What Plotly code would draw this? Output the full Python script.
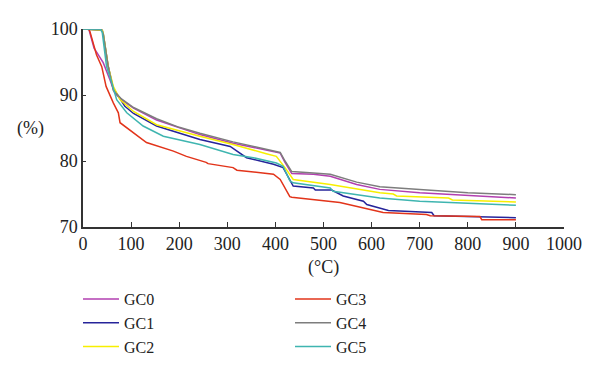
import plotly.graph_objects as go

# Temperature (°C) / residual mass (%)
gc0_t = [0, 12, 23, 42, 56, 66, 80, 105, 153, 200, 243, 312, 396, 410, 420, 434, 479, 514, 569, 617, 700, 800, 900]
gc0_y = [100, 100, 97.1, 94.9, 92.3, 90.3, 89.3, 88.0, 86.2, 85.0, 84.0, 82.7, 81.4, 81.2, 79.8, 78.1, 78.0, 77.7, 76.45, 75.7, 75.2, 74.8, 74.4]

gc1_t = [0, 40, 42, 52, 63, 80, 87, 105, 153, 243, 306, 340, 396, 416, 437, 479, 483, 517, 541, 583, 590, 635, 725, 730, 900]
gc1_y = [100, 99.8, 99.3, 94.5, 91.0, 89.2, 88.3, 87.2, 85.3, 83.25, 82.2, 80.5, 79.5, 79.0, 76.2, 75.9, 75.6, 75.6, 74.7, 73.9, 73.4, 72.5, 72.2, 71.7, 71.4]

gc2_t = [0, 40, 42, 52.6, 63, 77, 105, 153, 243, 312, 381, 402, 423, 437, 514, 617, 645, 652, 760, 768, 900]
gc2_y = [100, 99.8, 99.4, 94.3, 91.3, 89.3, 87.5, 85.5, 83.75, 82.5, 81.1, 80.7, 78.7, 77.2, 76.45, 75.2, 75.0, 74.7, 74.4, 74.1, 73.8]

gc3_t = [0, 12, 14.5, 28, 39, 48, 63, 73.5, 77, 105, 132, 188, 215, 256, 260, 312, 320, 396, 410, 430, 434, 534, 624, 714, 722, 825, 829, 900]
gc3_y = [100, 100, 99.6, 96.1, 94.3, 91.3, 88.8, 87.3, 85.8, 84.3, 82.8, 81.5, 80.7, 79.8, 79.6, 79.0, 78.6, 78.0, 77.2, 74.6, 74.5, 73.7, 72.2, 71.9, 71.7, 71.6, 71.1, 71.1]

gc4_t = [0, 38, 42, 52, 63, 80, 105, 153, 200, 243, 312, 396, 410, 420, 434, 479, 514, 569, 617, 700, 800, 900]
gc4_y = [100, 99.9, 99.3, 94.5, 90.7, 89.4, 88.1, 86.4, 85.1, 84.2, 82.9, 81.6, 81.3, 80.0, 78.4, 78.2, 78.0, 76.8, 76.1, 75.7, 75.2, 74.9]

gc5_t = [0, 36, 40, 49, 60, 70, 91, 125, 167, 243, 312, 354, 402, 416, 430, 437, 514, 520, 617, 700, 800, 900]
gc5_y = [100, 100, 99.5, 94.3, 91.8, 89.3, 87.3, 85.3, 83.75, 82.5, 81.0, 80.5, 79.7, 79.2, 77.0, 76.7, 75.9, 75.4, 74.4, 73.9, 73.6, 73.3]

names = ["GC0", "GC1", "GC2", "GC3", "GC4", "GC5"]
series_t = [gc0_t, gc1_t, gc2_t, gc3_t, gc4_t, gc5_t]
series_y = [gc0_y, gc1_y, gc2_y, gc3_y, gc4_y, gc5_y]
colors = ["#b23fb0", "#26249a", "#f7ef00", "#e2341a", "#7d7d7d", "#3fb5b0"]
legends = ["legend", "legend", "legend", "legend2", "legend2", "legend2"]

x_ticks = [0, 100, 200, 300, 400, 500, 600, 700, 800, 900, 1000]
y_ticks = [70, 80, 90, 100]

FONT = "Liberation Serif"

fig = go.Figure()
for n, t, y, c, lg in zip(names, series_t, series_y, colors, legends):
    fig.add_trace(go.Scatter(x=t, y=y, mode="lines", name=n,
                             line=dict(color=c, width=1.5), legend=lg))

leg_common = dict(xref="container", yref="container", xanchor="left", yanchor="top",
                  font=dict(family=FONT, size=16), tracegroupgap=0, itemwidth=36,
                  bgcolor="rgba(0,0,0,0)")

fig.update_layout(
    width=600, height=372,
    margin=dict(l=83, r=36, t=29, b=145, autoexpand=False),
    paper_bgcolor="white", plot_bgcolor="white",
    font=dict(family=FONT, size=18, color="#222"),
    xaxis=dict(range=[0, 1000], tickvals=x_ticks, showgrid=False, zeroline=False,
               showline=True, linecolor="#333", linewidth=1.5,
               ticks="inside", ticklen=5, tickcolor="#333", tickwidth=1.2),
    yaxis=dict(range=[70, 100], tickvals=y_ticks, showgrid=False, zeroline=False,
               showline=True, linecolor="#333", linewidth=1.5,
               ticks="inside", ticklen=3, tickcolor="#333", tickwidth=1.2),
    legend=dict(x=78 / 600, y=1 - 282 / 372, **leg_common),
    legend2=dict(x=290 / 600, y=1 - 282 / 372, **leg_common),
    annotations=[
        dict(text="(%)", xref="paper", yref="paper", x=-0.11, y=0.5,
             xanchor="center", yanchor="middle",
             showarrow=False, font=dict(family=FONT, size=18)),
        dict(text="(°C)", xref="paper", yref="paper", x=0.5, y=-0.207,
             xanchor="center", yanchor="middle",
             showarrow=False, font=dict(family=FONT, size=18)),
    ],
)

fig.write_html("out.html", config={"displayModeBar": False},
               post_script="document.body.style.margin='0';")
